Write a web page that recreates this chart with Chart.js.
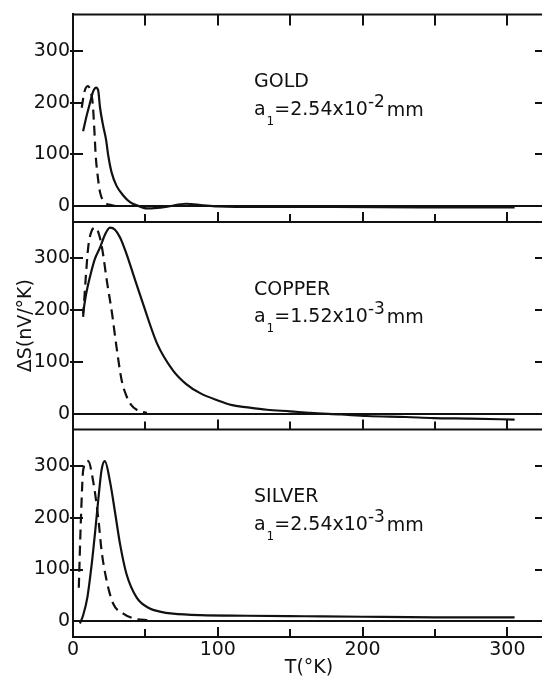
<!DOCTYPE html>
<html><head><meta charset="utf-8">
<script src="https://cdn.jsdelivr.net/npm/chart.js@4.4.1/dist/chart.umd.min.js"></script>
<style>html,body{margin:0;padding:0;background:#fff;overflow:hidden}#wrap{width:548px;height:681px}</style>
</head><body><div id="wrap"><canvas id="c" width="548" height="681"></canvas></div>
<script>
// ---- data ----
const xTickLabels = [0, 100, 200, 300];
const xMarkValues = [50, 100, 150, 200, 250, 300];
const yTickValues = [0, 100, 200, 300];
const yMarkValues = [100, 200, 300];

const goldSolidT = [7, 9, 11.7, 14, 16, 17.5, 18.6, 20.5, 22.8, 24.4, 26.7, 30, 34.7, 39.4, 44, 51, 58, 66, 78, 90, 100, 130, 180, 240, 305];
const goldSolidV = [145, 170, 199, 222, 229, 222, 192, 160, 129, 97, 65, 40, 21, 8, 2, -4, -3, 0, 5, 2, 0, -1, -1, -2, -2];
const goldDashT = [6, 8, 10.5, 12, 13.6, 14.7, 15.7, 16.8, 18.7, 22, 25.6, 29];
const goldDashV = [190, 222, 232, 222, 199, 150, 97, 65, 27, 8, 3, 1];

const copperSolidT = [6.9, 9, 11.7, 15, 18.7, 22, 25.6, 29, 32.5, 37, 41.5, 48.4, 58, 69, 78, 87.8, 100, 110, 122, 134, 150, 164, 185, 203, 230, 249, 275, 305];
const copperSolidV = [193, 230, 264, 298, 321, 345, 359, 355, 340, 308, 270, 212, 136, 84, 58, 40, 26, 17, 12, 8, 5, 2, -1, -4, -6, -8, -9, -11];
const copperDashT = [7, 9, 10.5, 12.5, 15.2, 17.5, 20, 23.4, 27, 30, 33.6, 37, 40, 44, 51];
const copperDashV = [187, 270, 321, 350, 359, 350, 321, 256, 193, 130, 65, 34, 18, 8, 2];

const silverSolidT = [4.8, 7, 9.9, 12.9, 15.3, 17.5, 19.8, 22, 25.6, 29, 32.5, 37, 44, 53, 60, 69, 88, 120, 160, 200, 250, 305];
const silverSolidV = [-4, 12, 46, 110, 173, 236, 293, 309, 269, 211, 149, 91, 46, 25, 19, 15, 12, 11, 10, 9, 8, 8];
const silverDashT = [4, 5.5, 7.1, 10.5, 14, 17.5, 19.8, 23.3, 27.8, 34.7, 41.6, 53];
const silverDashV = [65, 200, 293, 309, 269, 198, 135, 78, 34, 15, 6, 2];

const panelNames = ['GOLD', 'COPPER', 'SILVER'];
const panelCoef = ['2.54', '1.52', '2.54'];
const panelExp = ['-2', '-3', '-3'];
const panelAxes = ['yGold', 'yCopper', 'ySilver'];

// ---- chart ----
const INK = '#111';
const FONT = 19;
const FAMILY = "'DejaVu Sans', sans-serif";
Chart.defaults.font.family = FAMILY;
Chart.defaults.color = INK;

const pts = (t, v) => t.map((x, i) => ({x: x, y: v[i]}));
function line(t, v, axis, dashed) {
  return {
    data: pts(t, v), yAxisID: axis, borderColor: INK, borderWidth: 2.2,
    borderDash: dashed ? [10, 6] : [], pointRadius: 0, fill: false,
    cubicInterpolationMode: 'monotone'
  };
}
function yAxis(showTitle) {
  return {
    type: 'linear', position: 'left', stack: 'panels', stackWeight: 1,
    min: -30, max: 370,
    afterFit: s => { s.width = 73; },
    afterBuildTicks: s => { s.ticks = yTickValues.map(v => ({value: v})); },
    ticks: {
      padding: 3, font: {size: FONT}, color: INK,
      callback: v => String(v)
    },
    grid: {
      display: true, drawTicks: false, lineWidth: 2,
      color: c => (c.tick && c.tick.value === 0) ? INK : 'rgba(0,0,0,0)'
    },
    border: {display: true, color: INK, width: 2},
    title: showTitle ? {display: true, text: 'ΔS(nV/°K)', font: {size: FONT}, color: INK, padding: {top: 15, bottom: 0}} : {display: false}
  };
}

const framePlugin = {
  id: 'frame',
  afterDraw(chart) {
    const {ctx, chartArea: a, scales} = chart;
    const xs = scales.x;
    const panels = panelAxes.map(k => scales[k]);
    ctx.save();
    ctx.strokeStyle = INK; ctx.lineWidth = 2; ctx.lineCap = 'butt';
    ctx.beginPath();
    ctx.moveTo(a.left, a.top); ctx.lineTo(a.right, a.top);
    ctx.moveTo(a.right, a.top); ctx.lineTo(a.right, a.bottom);
    panels.forEach(p => { ctx.moveTo(a.left, p.bottom); ctx.lineTo(a.right, p.bottom); });
    // x tick marks: down from top frame, up from every panel bottom
    xMarkValues.forEach(t => {
      const px = Math.round(xs.getPixelForValue(t));
      const len = (t % 100 === 0) ? 10 : 8;
      ctx.moveTo(px, a.top); ctx.lineTo(px, a.top + 11);
      panels.forEach(p => { ctx.moveTo(px, p.bottom); ctx.lineTo(px, p.bottom - len); });
    });
    // y tick marks: crossing left axis, inward from right axis
    panels.forEach(p => {
      yMarkValues.forEach(v => {
        const py = Math.round(p.getPixelForValue(v));
        ctx.moveTo(a.left - 3, py); ctx.lineTo(a.left + 10, py);
        ctx.moveTo(a.right - 10, py); ctx.lineTo(a.right, py);
      });
    });
    ctx.stroke();

    // panel annotations
    ctx.fillStyle = INK;
    ctx.textBaseline = 'alphabetic';
    ctx.textAlign = 'left';
    panels.forEach((p, i) => {
      const x0 = xs.getPixelForValue(125);
      const yName = p.getPixelForValue(230);
      const yLine = p.getPixelForValue(177);
      ctx.font = `${FONT}px ${FAMILY}`;
      ctx.fillText(panelNames[i], x0, yName);
      let x = x0;
      ctx.fillText('a', x, yLine); x += ctx.measureText('a').width + 1;
      ctx.font = `12px ${FAMILY}`;
      ctx.fillText('1', x, yLine + 10); x += ctx.measureText('1').width;
      ctx.font = `${FONT}px ${FAMILY}`;
      const mid = '=' + panelCoef[i] + 'x10';
      ctx.fillText(mid, x, yLine); x += ctx.measureText(mid).width;
      ctx.font = `17px ${FAMILY}`;
      ctx.fillText(panelExp[i], x, yLine - 8); x += ctx.measureText(panelExp[i]).width + 2;
      ctx.font = `${FONT}px ${FAMILY}`;
      ctx.fillText('mm', x, yLine + 1);
    });
    ctx.restore();
  }
};

new Chart(document.getElementById('c'), {
  type: 'line',
  data: {
    datasets: [
      line(goldSolidT, goldSolidV, 'yGold', false),
      line(goldDashT, goldDashV, 'yGold', true),
      line(copperSolidT, copperSolidV, 'yCopper', false),
      line(copperDashT, copperDashV, 'yCopper', true),
      line(silverSolidT, silverSolidV, 'ySilver', false),
      line(silverDashT, silverDashV, 'ySilver', true)
    ]
  },
  options: {
    responsive: false, animation: false, devicePixelRatio: 1,
    layout: {padding: {top: 7, right: 3, left: 0, bottom: 0}},
    plugins: {legend: {display: false}, tooltip: {enabled: false}},
    scales: {
      x: {
        type: 'linear', position: 'bottom', min: 0, max: 326,
        afterFit: s => { s.height = 44; },
        afterBuildTicks: s => { s.ticks = xTickLabels.map(v => ({value: v})); },
        ticks: {
          padding: 2, maxRotation: 0, autoSkip: false,
          font: {size: FONT}, color: INK,
          callback: v => String(v)
        },
        grid: {display: false, drawTicks: false},
        border: {display: true, color: INK, width: 2},
        title: {display: true, text: 'T(°K)', font: {size: FONT, lineHeight: 1.1}, color: INK, padding: {top: 0, bottom: 2}}
      },
      ySilver: yAxis(false),
      yCopper: yAxis(true),
      yGold: yAxis(false)
    }
  },
  plugins: [framePlugin]
});
</script>
</body></html>
